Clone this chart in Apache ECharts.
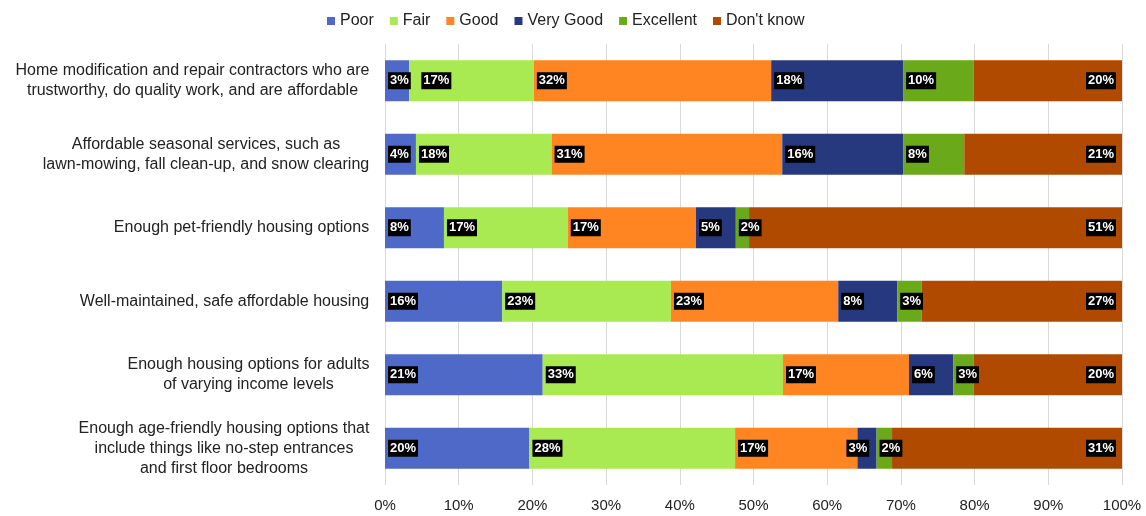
<!DOCTYPE html>
<html>
<head>
<meta charset="utf-8">
<script src="https://cdn.jsdelivr.net/npm/echarts@6/dist/echarts.min.js"></script>
<style>
  html, body { margin: 0; padding: 0; background: #fff; }
  #chart { width: 1146px; height: 516px; }
</style>
</head>
<body>
<div id="chart"></div>
<script>
// Survey items (top to bottom)
const categories = [
  'Home modification and repair contractors who are\ntrustworthy, do quality work, and are affordable',
  'Affordable seasonal services, such as\nlawn-mowing, fall clean-up, and snow clearing',
  'Enough pet-friendly housing options',
  'Well-maintained, safe affordable housing',
  'Enough housing options for adults\nof varying income levels',
  'Enough age-friendly housing options that\ninclude things like no-step entrances\nand first floor bedrooms'
];

// Rating names, in stacking order
const ratings = ['Poor', 'Fair', 'Good', 'Very Good', 'Excellent', "Don't know"];

// Share of responses (%) per rating, one entry per survey item
const poor      = [3.3, 4.2, 8.0, 15.9, 21.4, 19.6];
const fair      = [16.9, 18.4, 16.8, 22.9, 32.6, 27.9];
const good      = [32.2, 31.3, 17.4, 22.7, 17.1, 16.6];
const veryGood  = [17.9, 16.4, 5.4, 8.0, 6.0, 2.6];
const excellent = [9.6, 8.3, 1.8, 3.3, 2.8, 2.1];
const dontKnow  = [20.1, 21.4, 50.6, 27.2, 20.1, 31.2];

// Axis tick labels
const xTicks = ['0%', '10%', '20%', '30%', '40%', '50%', '60%', '70%', '80%', '90%', '100%'];

const seriesValues = [poor, fair, good, veryGood, excellent, dontKnow];
const colors = ['#4f69c9', '#a9ea53', '#ff8522', '#27397e', '#6aa919', '#af4a00'];

// Horizontal nudges (px) that keep crowded value tags apart: "series-row"
const tagNudge = { '1-0': 9, '3-5': -14 };

const FONT = '"Liberation Sans", Arial, Helvetica, sans-serif';
const LABEL_SIZE = 16;

// Measure each category label so its lines can be centred inside a right-aligned block
const ctx = document.createElement('canvas').getContext('2d');
ctx.font = LABEL_SIZE + 'px ' + FONT;
const rich = {};
categories.forEach(function (c, i) {
  const w = Math.max.apply(null, c.split('\n').map(function (l) { return ctx.measureText(l).width; }));
  rich['c' + i] = {
    width: Math.ceil(w) + 1,
    align: 'center',
    fontSize: LABEL_SIZE,
    lineHeight: 20,
    color: '#222',
    fontFamily: FONT
  };
});

const chart = echarts.init(document.getElementById('chart'), null, { renderer: 'canvas' });

const series = ratings.map(function (name, s) {
  const last = s === ratings.length - 1;
  return {
    name: name,
    type: 'bar',
    stack: 'total',
    barWidth: 41,
    itemStyle: { color: colors[s] },
    label: {
      show: true,
      position: last ? 'insideRight' : 'insideLeft',
      distance: last ? 6 : 3,
      formatter: function (p) { return Math.round(p.value) + '%'; },
      color: '#fff',
      fontWeight: 'bold',
      fontSize: 13,
      fontFamily: FONT,
      backgroundColor: '#000',
      padding: [2, 2, 1, 2],
      lineHeight: 14
    },
    emphasis: { disabled: true },
    data: seriesValues[s].map(function (v, r) {
      const dx = tagNudge[s + '-' + r];
      return dx ? { value: v, label: { offset: [dx, 0] } } : v;
    })
  };
});

chart.setOption({
  animation: false,
  color: colors,
  textStyle: { fontFamily: FONT },
  legend: {
    data: ratings,
    top: 8,
    left: 322,
    icon: 'rect',
    itemWidth: 8,
    itemHeight: 8,
    itemGap: 16,
    textStyle: { fontSize: 16, color: '#222', fontFamily: FONT }
  },
  grid: { left: 385, right: 24, top: 44, bottom: 31, containLabel: false },
  xAxis: {
    type: 'value',
    min: 0,
    max: 100,
    interval: 10,
    axisLine: { show: false },
    axisTick: { show: false },
    splitLine: { show: true, lineStyle: { color: '#d9d9d9', width: 1 } },
    axisLabel: {
      margin: 13,
      fontSize: 15,
      color: '#222',
      fontFamily: FONT,
      formatter: function (v) { return xTicks[Math.round(v / 10)]; }
    }
  },
  yAxis: {
    type: 'category',
    inverse: true,
    data: categories,
    axisLine: { show: false },
    axisTick: { show: false },
    splitLine: { show: false },
    axisLabel: {
      interval: 0,
      margin: 15,
      align: 'right',
      formatter: function (v, i) {
        return v.split('\n').map(function (l) { return '{c' + i + '|' + l + '}'; }).join('\n');
      },
      rich: rich
    }
  },
  series: series
});
</script>
</body>
</html>
